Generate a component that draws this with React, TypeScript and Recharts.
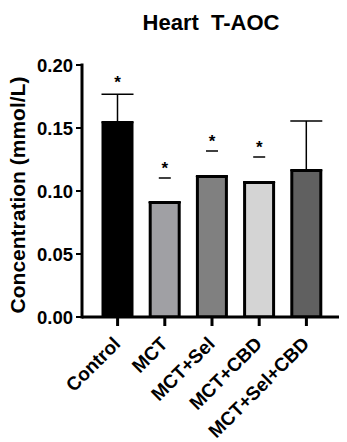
import React from 'react';
import { ComposedChart, Bar, Cell, XAxis, YAxis, ErrorBar, Scatter } from 'recharts';

const categories = ['Control', 'MCT', 'MCT+Sel', 'MCT+CBD', 'MCT+Sel+CBD'];
const means = [0.1544, 0.0909, 0.1115, 0.1067, 0.1163];
const upperErrors = [0.0224, null, null, null, 0.0393];
const capLevels = [null, 0.1103, 0.1317, 0.127, null];
const starLevels = [0.1897, 0.1215, 0.1429, 0.1381, null];
const barColors = ['#000000', '#a0a0a4', '#808080', '#d4d4d4', '#606060'];
const yTicks = [0, 0.05, 0.1, 0.15, 0.2];

const FONT = '"Liberation Sans", Arial, sans-serif';

const data = categories.map((name, i) => ({
  name,
  value: means[i],
  err: upperErrors[i] == null ? [0, 0] : [0, upperErrors[i] as number],
  cap: capLevels[i],
  star: starLevels[i],
}));

const XTick = (props: any) => {
  const { x, y, payload } = props;
  const ax = x + 4;
  const ay = y + 17;
  return (
    <text
      x={ax}
      y={ay}
      transform={`rotate(-45, ${ax}, ${ay})`}
      textAnchor="end"
      fontFamily={FONT}
      fontWeight="bold"
      fontSize={19}
      fill="#000"
    >
      {payload.value}
    </text>
  );
};

const CapShape = (props: any) => {
  const { cx, cy, payload } = props;
  if (payload == null || payload.cap == null || !isFinite(cx) || !isFinite(cy)) return <g />;
  return <line x1={cx - 6} x2={cx + 6} y1={cy} y2={cy} stroke="#000" strokeWidth={1.5} />;
};

const StarShape = (props: any) => {
  const { cx, cy, payload } = props;
  if (payload == null || payload.star == null || !isFinite(cx) || !isFinite(cy)) return <g />;
  return (
    <text x={cx} y={cy + 10} textAnchor="middle" fontFamily={FONT} fontWeight="bold" fontSize={17} fill="#000">
      *
    </text>
  );
};

export default function App() {
  return (
    <div style={{ position: 'absolute', left: 0, top: 0, width: 347, height: 442, background: '#fff' }}>
      <ComposedChart
        width={347}
        height={442}
        data={data}
        margin={{ top: 65, right: 8, left: 0, bottom: 0 }}
      >
        <XAxis
          dataKey="name"
          height={125}
          padding={{ left: 12, right: 9 }}
          axisLine={{ stroke: '#000', strokeWidth: 3 }}
          tickLine={{ stroke: '#000', strokeWidth: 3 }}
          tickSize={9}
          interval={0}
          tick={<XTick />}
        />
        <YAxis
          width={82}
          domain={[0, 0.2]}
          ticks={yTicks}
          tickFormatter={(v: number) => v.toFixed(2)}
          axisLine={{ stroke: '#000', strokeWidth: 3, strokeLinecap: 'square' }}
          tickLine={{ stroke: '#000', strokeWidth: 2 }}
          tickSize={6}
          tickMargin={3}
          tick={{ fontFamily: FONT, fontWeight: 'bold', fontSize: 18.5, fill: '#000' }}
          allowDataOverflow
        />
        <Bar dataKey="value" barSize={29} stroke="#000" strokeWidth={3} isAnimationActive={false}>
          {data.map((d, i) => (
            <Cell key={d.name} fill={barColors[i]} />
          ))}
          <ErrorBar dataKey="err" width={16} stroke="#000" strokeWidth={1.5} direction="y" />
        </Bar>
        <Scatter dataKey="cap" shape={<CapShape />} isAnimationActive={false} />
        <Scatter dataKey="star" shape={<StarShape />} isAnimationActive={false} />
      </ComposedChart>
      <svg
        width={347}
        height={442}
        style={{ position: 'absolute', left: 0, top: 0, pointerEvents: 'none' }}
      >
        <text
          x={211}
          y={30}
          textAnchor="middle"
          fontFamily={FONT}
          fontWeight="bold"
          fontSize={22}
          fill="#000"
          style={{ whiteSpace: 'pre' }}
        >
          {'Heart  T-AOC'}
        </text>
        <text
          x={25}
          y={195}
          transform="rotate(-90, 25, 195)"
          textAnchor="middle"
          fontFamily={FONT}
          fontWeight="bold"
          fontSize={21}
          fill="#000"
        >
          Concentration (mmol/L)
        </text>
      </svg>
    </div>
  );
}
